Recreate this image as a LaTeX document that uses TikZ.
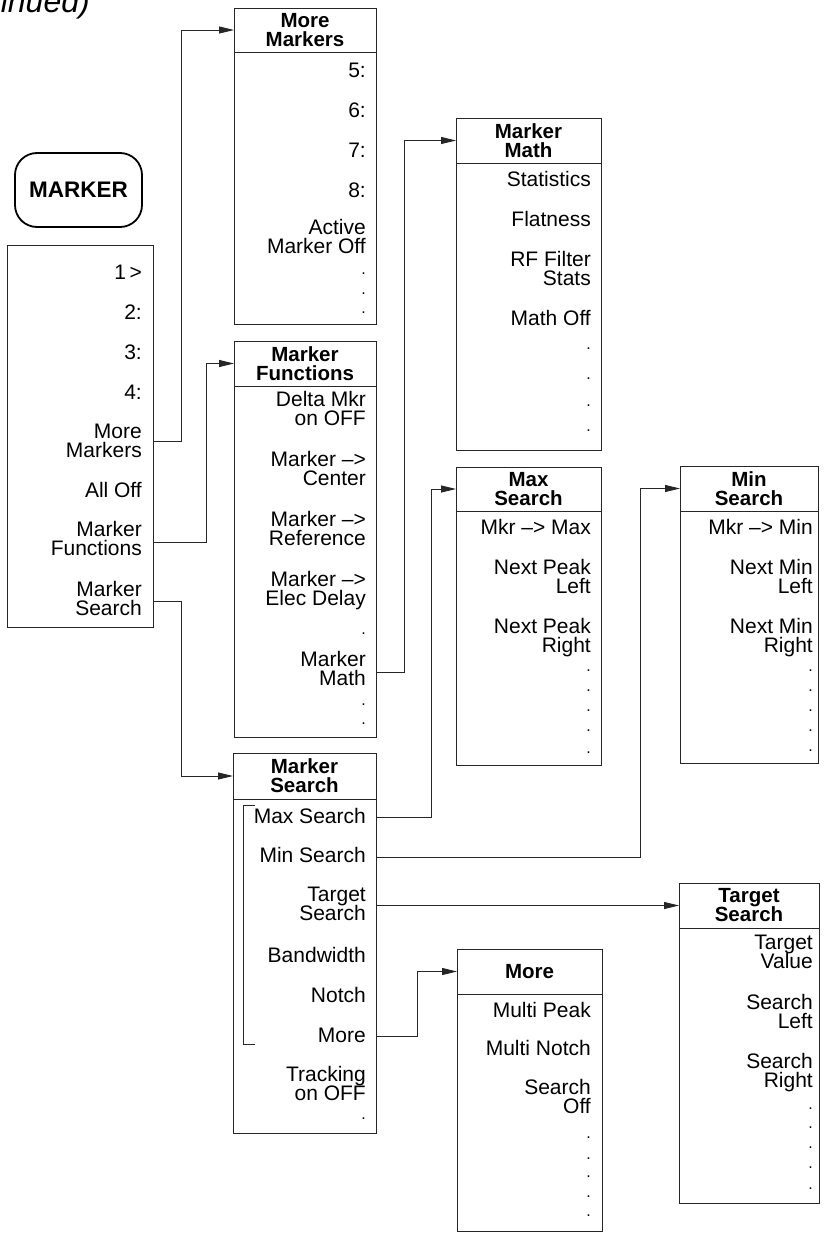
\documentclass[tikz,border=0pt]{standalone}
\usepackage{fontspec}
\setmainfont{Liberation Sans}
\usetikzlibrary{arrows.meta}
\newcommand\itstrut{\rule[-1pt]{0pt}{17pt}}
\newcommand\menuframe[7]{%
  \node[box, minimum width={#3-#2}, minimum height={#5-#4}] (#1H) at (#2,#4) {};
  \node[box, minimum width={#3-#2}, minimum height={#6-#5}] (#1B) at (#2,#5) {};
  \node[ttl] (#1T) at (#1H.center) {#7};}
\newcommand\mi[4]{\node[item] (#1) at (#2,#3-8.5) {#4};}
\newcommand\md[3]{\node[dotitem] (#1) at (#2,#3+1.5) {.};}
\tikzset{
  box/.style={draw=black!85, line width=0.9pt, inner sep=0pt, outer sep=0pt, anchor=north west},
  item/.style={anchor=north east, inner sep=0pt, align=right,
    font={\fontsize{21}{19}\selectfont\lineskiplimit=-30pt}, execute at begin node=\itstrut},
  dotitem/.style={anchor=base east, inner sep=0pt, font={\fontsize{16}{16}\selectfont}},
  ttl/.style={inner sep=0pt, align=center,
    font={\bfseries\fontsize{20.5}{19}\selectfont\lineskiplimit=-30pt}},
  conn/.style={draw=black!85, line width=0.9pt, -{Triangle[length=15pt,width=7pt]}},
}
\begin{document}
\begin{tikzpicture}[x=1pt,y=-1pt]
\useasboundingbox (0,0) rectangle (825,1236);
\fill[white] (0,0) rectangle (825,1236);

\node[anchor=base east, inner sep=0pt, font={\itshape\fontsize{32}{38}\selectfont}] (cont) at (90,13) {inued)};

% MARKER key
\node[draw, line width=1.8pt, rounded corners=22pt, minimum width=127, minimum height=74,
  inner sep=0pt, font={\bfseries\fontsize{22.5}{24}\selectfont}] (marker) at (78.5,190) {MARKER};

% main menu
\node[box, minimum width=146, minimum height=382] (mainB) at (7,245) {};
\mi{m1}{142}{272}{1\,>}
\mi{m2}{142}{312}{2:}
\mi{m3}{142}{352}{3:}
\mi{m4}{142}{392}{4:}
\mi{m5}{142}{432}{More\\Markers}
\mi{m6}{142}{490}{All Off}
\mi{m7}{142}{530}{Marker\\Functions}
\mi{m8}{142}{590}{Marker\\Search}

% More Markers
\menuframe{mmk}{234}{376}{8}{52}{324}{More\\Markers}
\mi{mk5}{366}{70}{5:}
\mi{mk6}{366}{110}{6:}
\mi{mk7}{366}{150}{7:}
\mi{mk8}{366}{190}{8:}
\mi{mkA}{366}{228}{Active\\Marker Off}
\md{mkd1}{366}{273}
\md{mkd2}{366}{293}
\md{mkd3}{366}{312}

% Marker Functions
\menuframe{mf}{234}{376}{341}{386}{737}{Marker\\Functions}
\mi{mf1}{366}{400}{Delta Mkr\\on OFF}
\mi{mf2}{366}{460}{Marker --{}>\\Center}
\mi{mf3}{366}{520}{Marker --{}>\\Reference}
\mi{mf4}{366}{580}{Marker --{}>\\Elec Delay}
\md{mfd1}{366}{633}
\mi{mf5}{366}{660}{Marker\\Math}
\md{mfd2}{366}{704}
\md{mfd3}{366}{723}

% Marker Search
\menuframe{ms}{233}{376}{753}{799}{1133}{Marker\\Search}
\mi{ms1}{366}{816}{Max Search}
\mi{ms2}{366}{855}{Min Search}
\mi{ms3}{366}{895}{Target\\Search}
\mi{ms4}{366}{955}{Bandwidth}
\mi{ms5}{366}{995}{Notch}
\mi{ms6}{366}{1035}{More}
\mi{ms7}{366}{1075}{Tracking\\on OFF}
\md{msd1}{366}{1118}
\draw[draw=black!85, line width=0.9pt] (255,805) -- (243,805) -- (243,1044) -- (255,1044);

% Marker Math
\menuframe{mth}{456}{601}{118}{163}{450}{Marker\\Math}
\mi{mt1}{591}{179}{Statistics}
\mi{mt2}{591}{219}{Flatness}
\mi{mt3}{591}{260}{RF Filter\\Stats}
\mi{mt4}{591}{318}{Math Off}
\md{mtd1}{591}{348}
\md{mtd2}{591}{378}
\md{mtd3}{591}{405}
\md{mtd4}{591}{430}

% Max Search
\menuframe{mxs}{456}{601}{467}{511}{765}{Max\\Search}
\mi{mx1}{591}{527}{Mkr --{}> Max}
\mi{mx2}{591}{568}{Next Peak\\Left}
\mi{mx3}{591}{627}{Next Peak\\Right}
\md{mxd1}{591}{670}
\md{mxd2}{591}{690}
\md{mxd3}{591}{710}
\md{mxd4}{591}{730}
\md{mxd5}{591}{752}

% Min Search
\menuframe{mns}{680}{818}{466}{511}{763}{Min\\Search}
\mi{mn1}{813}{527}{Mkr --{}> Min}
\mi{mn2}{813}{568}{Next Min\\Left}
\mi{mn3}{813}{627}{Next Min\\Right}
\md{mnd1}{813}{670}
\md{mnd2}{813}{690}
\md{mnd3}{813}{710}
\md{mnd4}{813}{730}
\md{mnd5}{813}{750}

% More
\menuframe{mor}{457}{602}{949}{994}{1231}{More}
\mi{mo1}{591}{1010}{Multi Peak}
\mi{mo2}{591}{1048}{Multi Notch}
\mi{mo3}{591}{1088}{Search\\Off}
\md{mod1}{591}{1137}
\md{mod2}{591}{1158}
\md{mod3}{591}{1176}
\md{mod4}{591}{1196}
\md{mod5}{591}{1215}

% Target Search
\menuframe{ts}{679}{819}{883}{928}{1203}{Target\\Search}
\mi{ts1}{813}{943}{Target\\Value}
\mi{ts2}{813}{1003}{Search\\Left}
\mi{ts3}{813}{1062}{Search\\Right}
\md{tsd1}{813}{1108}
\md{tsd2}{813}{1127}
\md{tsd3}{813}{1147}
\md{tsd4}{813}{1167}
\md{tsd5}{813}{1188}

% connectors
\coordinate (cMM) at (mainB.east |- 0,441);
\coordinate (cMF) at (mainB.east |- 0,542);
\coordinate (cMS) at (mainB.east |- 0,601);
\coordinate (cMath) at (mfB.east |- 0,672);
\coordinate (cMax) at (msB.east |- 0,817);
\coordinate (cMin) at (msB.east |- 0,857);
\coordinate (cTgt) at (msB.east |- tsH.west);
\coordinate (cMore) at (msB.east |- 0,1036);
\draw[conn] (cMM) -- ++(28,0) |- (mmkH.west);
\draw[conn] (cMF) -- ++(53,0) |- (mfH.west);
\draw[conn] (cMS) -- ++(28,0) |- (msH.west);
\draw[conn] (cMath) -- ++(28,0) |- (mthH.west);
\draw[conn] (cMax) -- ++(55,0) |- (mxsH.west);
\draw[conn] (cMin) -- ++(264,0) |- (mnsH.west);
\draw[conn] (cTgt) -- (tsH.west);
\draw[conn] (cMore) -- ++(41,0) |- (morH.west);
\end{tikzpicture}
\end{document}
